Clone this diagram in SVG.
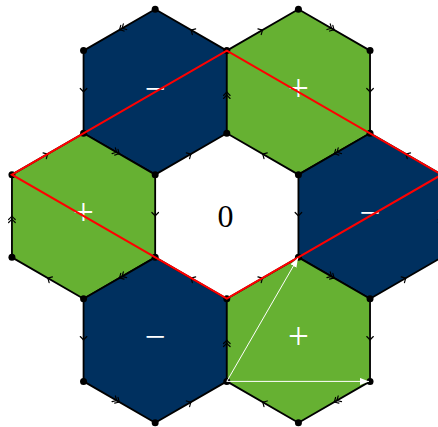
<svg xmlns="http://www.w3.org/2000/svg" xmlns:xlink="http://www.w3.org/1999/xlink" width="438" height="427" viewBox="0 0 438 427">
<style>
.hex{stroke:#000;stroke-width:1.8;stroke-linejoin:round}
.neg{fill:#00305f}
.pos{fill:#66b132}
.lbl{font-family:"Liberation Serif","DejaVu Serif",serif;font-size:37px;fill:#fff;text-anchor:middle}
.zero{font-family:"Liberation Serif","DejaVu Serif",serif;font-size:32px;fill:#000;text-anchor:middle}
.chev{fill:none;stroke:#000;stroke-width:1.2;stroke-linecap:round}
.dot{fill:#000}
.red{fill:none;stroke:#ff0000;stroke-width:2;stroke-linejoin:miter}
.warr{stroke:#fff;stroke-width:1;fill:none}
</style>
<defs>
<path id="s" class="chev" d="M-3.5,-3.3 Q-1.2,-0.9 0,0 Q-1.2,0.9 -3.5,3.3"/>
<path id="d" class="chev" d="M-3.5,-3.3 Q-1.2,-0.9 0,0 Q-1.2,0.9 -3.5,3.3 M-6.5,-3.3 Q-4.2,-0.9 -3,0 Q-4.2,0.9 -6.5,3.3"/>
<marker id="wa" viewBox="0 0 9 7" refX="9" refY="3.5" markerWidth="9" markerHeight="7" markerUnits="userSpaceOnUse" orient="auto">
<path d="M0,0 L9,3.5 L0,7 Z" fill="#fff"/>
</marker>
</defs>
<rect x="0" y="0" width="438" height="427" fill="#fff"/>
<g id="hex-tl">
<polygon class="hex neg" points="155.18,9.25 226.8,50.6 226.8,133.3 155.18,174.65 83.56,133.3 83.56,50.6"/>
<text class="lbl" x="155.18" y="101">−</text>
</g>
<g id="hex-tr">
<polygon class="hex pos" points="298.42,9.25 370.04,50.6 370.04,133.3 298.42,174.65 226.8,133.3 226.8,50.6"/>
<text class="lbl" x="298.42" y="101">+</text>
</g>
<g id="hex-l">
<polygon class="hex pos" points="83.56,133.3 155.18,174.65 155.18,257.35 83.56,298.7 11.94,257.35 11.94,174.65"/>
<text class="lbl" x="83.56" y="225">+</text>
</g>
<g id="hex-r">
<polygon class="hex neg" points="370.04,133.3 441.66,174.65 441.66,257.35 370.04,298.7 298.42,257.35 298.42,174.65"/>
<text class="lbl" x="370.04" y="225">−</text>
</g>
<g id="hex-bl">
<polygon class="hex neg" points="155.18,257.35 226.8,298.7 226.8,381.4 155.18,422.75 83.56,381.4 83.56,298.7"/>
<text class="lbl" x="155.18" y="349">−</text>
</g>
<g id="hex-br">
<polygon class="hex pos" points="298.42,257.35 370.04,298.7 370.04,381.4 298.42,422.75 226.8,381.4 226.8,298.7"/>
<text class="lbl" x="298.42" y="349">+</text>
</g>
<g id="hex-center">
<text class="zero" x="225.5" y="227">0</text>
</g>
<g id="edge-arrows">
<use xlink:href="#d" transform="translate(119.37,29.93) rotate(150)"/>
<use xlink:href="#s" transform="translate(190.99,29.93) rotate(210)"/>
<use xlink:href="#d" transform="translate(226.8,91.95) rotate(-90)"/>
<use xlink:href="#s" transform="translate(190.99,153.98) rotate(-30)"/>
<use xlink:href="#d" transform="translate(119.37,153.98) rotate(30)"/>
<use xlink:href="#s" transform="translate(83.56,91.95) rotate(90)"/>
<use xlink:href="#s" transform="translate(262.61,29.93) rotate(-30)"/>
<use xlink:href="#d" transform="translate(334.23,29.93) rotate(30)"/>
<use xlink:href="#s" transform="translate(370.04,91.95) rotate(90)"/>
<use xlink:href="#d" transform="translate(334.23,153.98) rotate(150)"/>
<use xlink:href="#s" transform="translate(262.61,153.98) rotate(210)"/>
<use xlink:href="#s" transform="translate(47.75,153.98) rotate(-30)"/>
<use xlink:href="#s" transform="translate(155.18,216) rotate(90)"/>
<use xlink:href="#d" transform="translate(119.37,278.03) rotate(150)"/>
<use xlink:href="#s" transform="translate(47.75,278.03) rotate(210)"/>
<use xlink:href="#d" transform="translate(11.94,216) rotate(-90)"/>
<use xlink:href="#s" transform="translate(405.85,153.98) rotate(210)"/>
<use xlink:href="#d" transform="translate(441.66,216) rotate(-90)"/>
<use xlink:href="#s" transform="translate(405.85,278.03) rotate(-30)"/>
<use xlink:href="#d" transform="translate(334.23,278.03) rotate(30)"/>
<use xlink:href="#s" transform="translate(298.42,216) rotate(90)"/>
<use xlink:href="#s" transform="translate(190.99,278.03) rotate(210)"/>
<use xlink:href="#d" transform="translate(226.8,340.05) rotate(-90)"/>
<use xlink:href="#s" transform="translate(190.99,402.08) rotate(-30)"/>
<use xlink:href="#d" transform="translate(119.37,402.08) rotate(30)"/>
<use xlink:href="#s" transform="translate(83.56,340.05) rotate(90)"/>
<use xlink:href="#s" transform="translate(262.61,278.03) rotate(-30)"/>
<use xlink:href="#s" transform="translate(370.04,340.05) rotate(90)"/>
<use xlink:href="#d" transform="translate(334.23,402.08) rotate(150)"/>
<use xlink:href="#s" transform="translate(262.61,402.08) rotate(210)"/>
</g>
<g id="vertices">
<circle class="dot" cx="155.18" cy="9.25" r="3.5"/><circle class="dot" cx="298.42" cy="9.25" r="3.5"/>
<circle class="dot" cx="83.56" cy="50.6" r="3.5"/><circle class="dot" cx="226.8" cy="50.6" r="3.5"/><circle class="dot" cx="370.04" cy="50.6" r="3.5"/>
<circle class="dot" cx="83.56" cy="133.3" r="3.5"/><circle class="dot" cx="226.8" cy="133.3" r="3.5"/><circle class="dot" cx="370.04" cy="133.3" r="3.5"/>
<circle class="dot" cx="11.94" cy="174.65" r="3.5"/><circle class="dot" cx="155.18" cy="174.65" r="3.5"/><circle class="dot" cx="298.42" cy="174.65" r="3.5"/><circle class="dot" cx="441.66" cy="174.65" r="3.5"/>
<circle class="dot" cx="11.94" cy="257.35" r="3.5"/><circle class="dot" cx="155.18" cy="257.35" r="3.5"/><circle class="dot" cx="298.42" cy="257.35" r="3.5"/><circle class="dot" cx="441.66" cy="257.35" r="3.5"/>
<circle class="dot" cx="83.56" cy="298.7" r="3.5"/><circle class="dot" cx="226.8" cy="298.7" r="3.5"/><circle class="dot" cx="370.04" cy="298.7" r="3.5"/>
<circle class="dot" cx="83.56" cy="381.4" r="3.5"/><circle class="dot" cx="226.8" cy="381.4" r="3.5"/><circle class="dot" cx="370.04" cy="381.4" r="3.5"/>
<circle class="dot" cx="155.18" cy="422.75" r="3.5"/><circle class="dot" cx="298.42" cy="422.75" r="3.5"/>
</g>
<g id="connectors">
<polygon class="red" points="11.94,174.65 226.8,50.6 441.66,174.65 226.8,298.7"/>
<line class="warr" x1="226.8" y1="381.4" x2="297.9" y2="258.2" marker-end="url(#wa)"/>
<line class="warr" x1="226.8" y1="381.4" x2="369" y2="381.4" marker-end="url(#wa)"/>
</g>
</svg>
